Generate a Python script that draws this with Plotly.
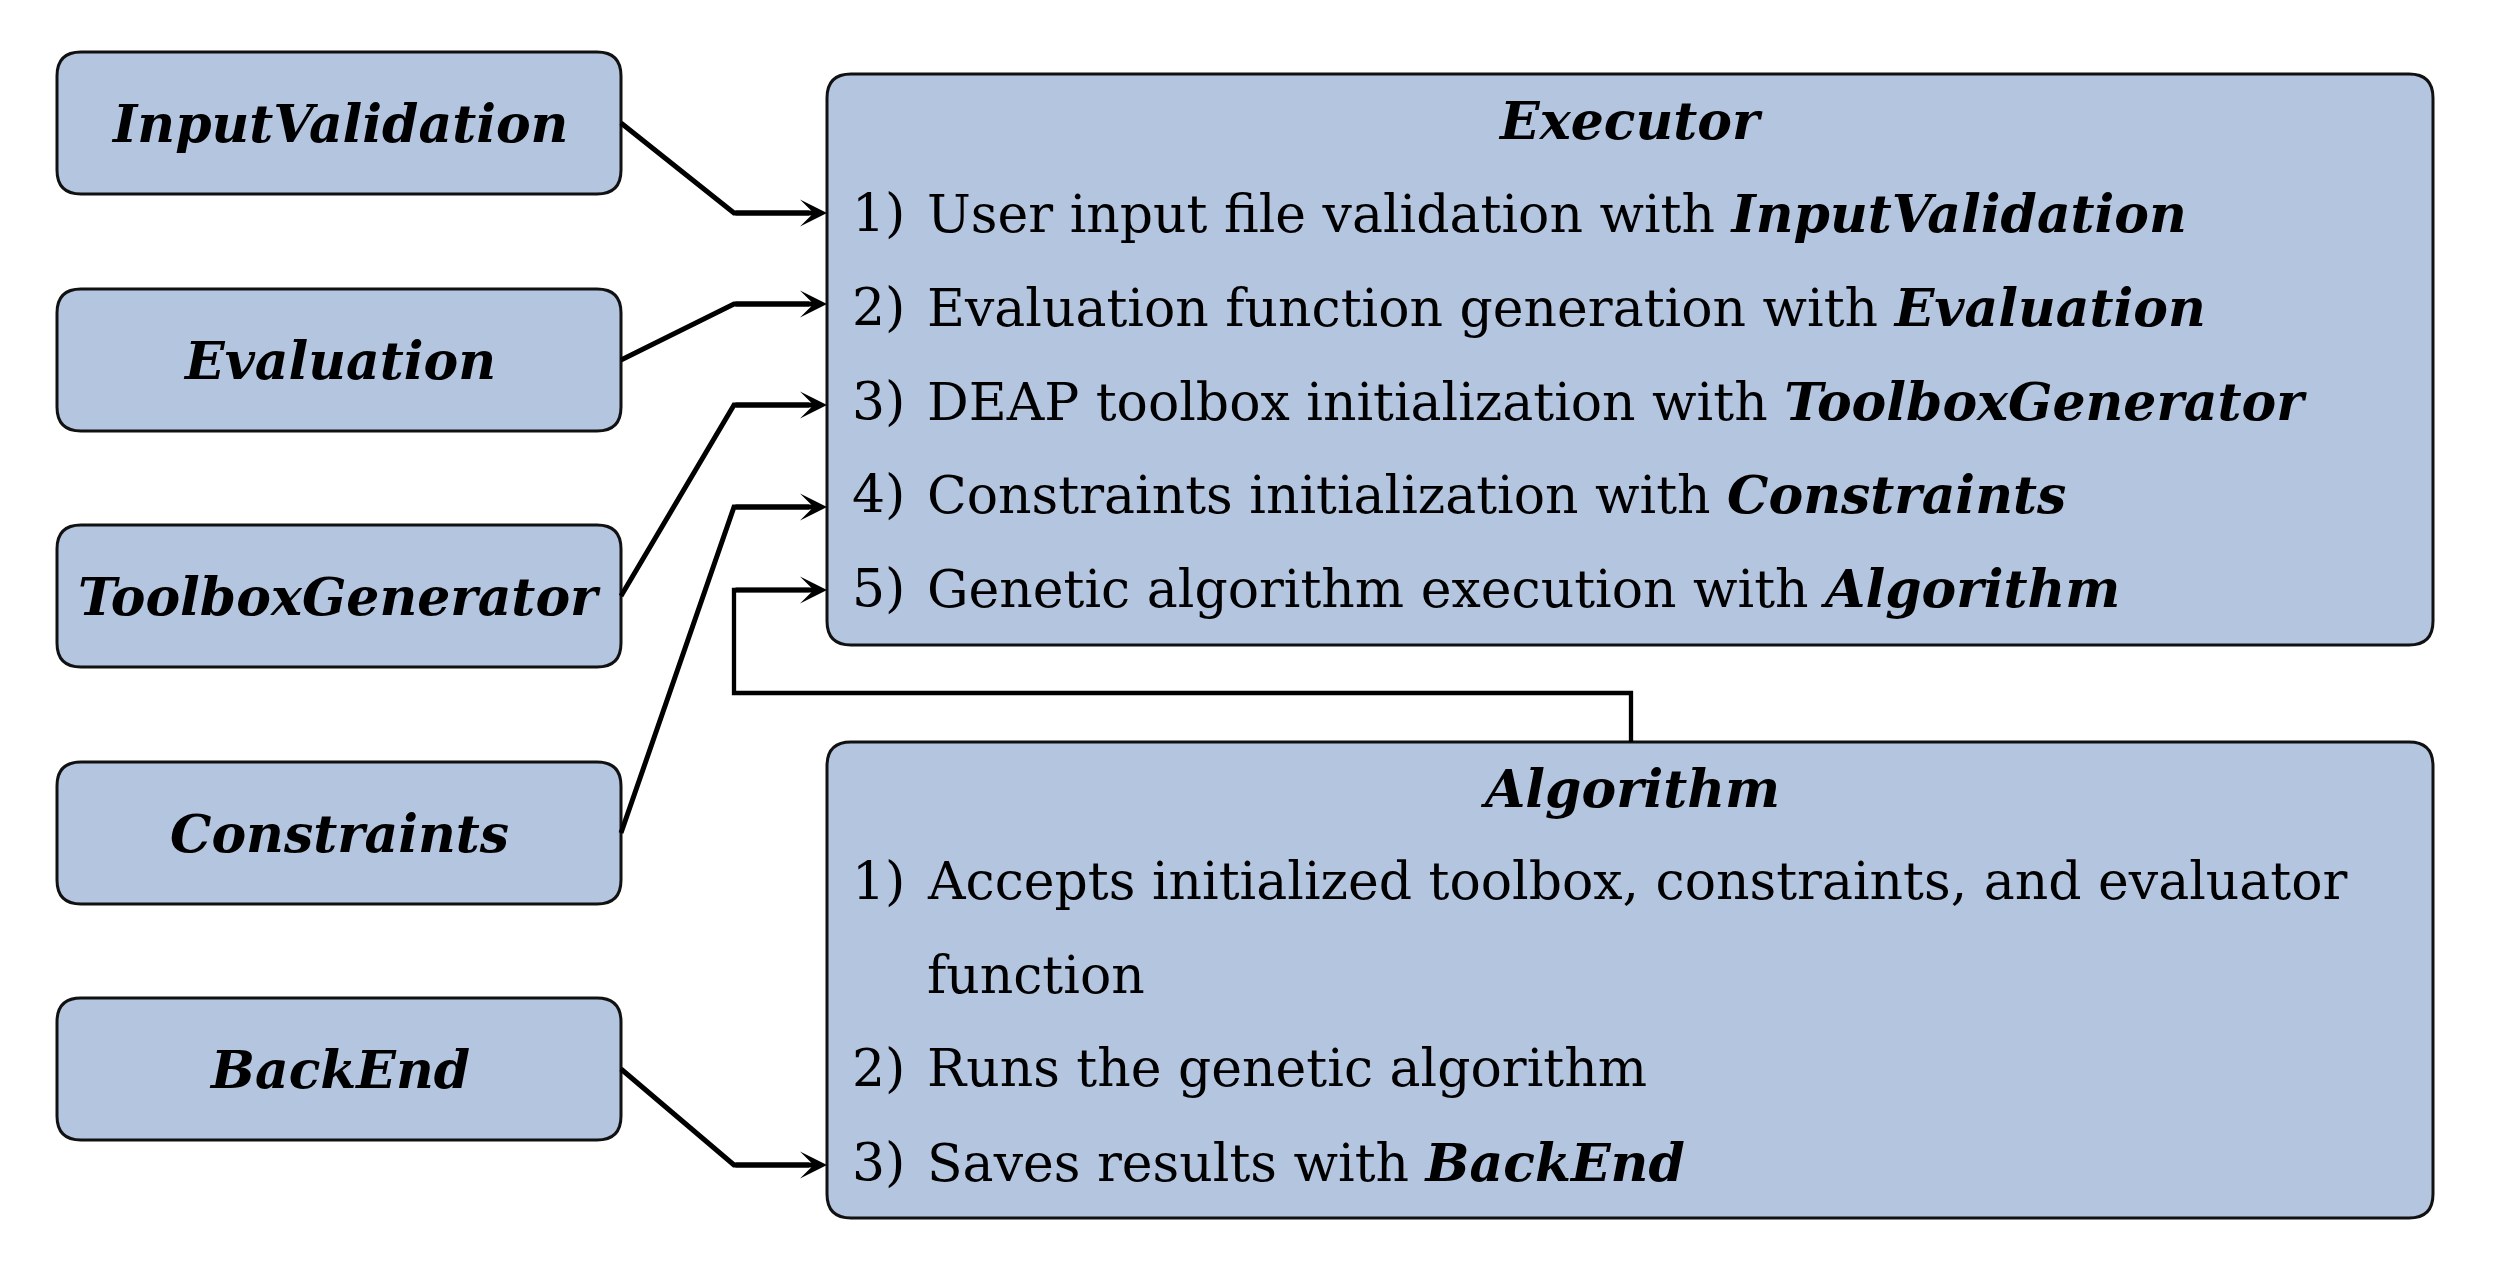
import plotly.graph_objects as go

# ---------------- data ----------------
modules = ["InputValidation", "Evaluation", "ToolboxGenerator", "Constraints", "BackEnd"]

executor_title = "Executor"
executor_labels = ["1)", "2)", "3)", "4)", "5)"]
executor_texts = [
    "User input file validation with ",
    "Evaluation function generation with ",
    "DEAP toolbox initialization with ",
    "Constraints initialization with ",
    "Genetic algorithm execution with ",
]
executor_refs = ["InputValidation", "Evaluation", "ToolboxGenerator", "Constraints", "Algorithm"]

algorithm_title = "Algorithm"
algorithm_labels = ["1)", "", "2)", "3)"]
algorithm_texts = [
    "Accepts initialized toolbox, constraints, and evaluator",
    "function",
    "Runs the genetic algorithm",
    "Saves results with ",
]
algorithm_refs = ["", "", "", "BackEnd"]

# ---------------- layout constants ----------------
W, H = 2502, 1276
PAD = 8  # page body margin
FILL = "#b4c5e0"
EDGE = "#111111"
FONT = "DejaVu Serif"
FS = 52

LB_X0, LB_X1 = 57, 621
LB_TOPS = [52, 289, 525, 762, 998]
LB_H = 142
EX = (827, 74, 2433, 645)
AL = (827, 742, 2433, 1218)
BEND_X = 734
EX_ARROW_Y = [213, 304, 405, 507, 590]
EX_LINE_Y = [213, 307, 401, 494, 588]
AL_LINE_Y = [881, 975, 1068, 1162]
BACKEND_ARROW_Y = 1165
FEED_X, FEED_Y = 1631, 693
LABEL_X, TEXT_X = 850, 925
HEAD_BACK = 18


def rrect(x0, y0, x1, y1, r):
    return (f"M{x0+r},{y0} L{x1-r},{y0} Q{x1},{y0} {x1},{y0+r} "
            f"L{x1},{y1-r} Q{x1},{y1} {x1-r},{y1} L{x0+r},{y1} "
            f"Q{x0},{y1} {x0},{y1-r} L{x0},{y0+r} Q{x0},{y0} {x0+r},{y0} Z")


fig = go.Figure()
shapes = []
annotations = []


def box(x0, y0, x1, y1, r=24):
    shapes.append(dict(type="path", path=rrect(x0, y0, x1, y1, r), xref="x", yref="y",
                       fillcolor=FILL, line=dict(color=EDGE, width=3), layer="below"))


def text(x, y, s, anchor="left", size=FS):
    annotations.append(dict(x=x, y=y, xref="x", yref="y", text=s, showarrow=False,
                            xanchor=anchor, yanchor="middle",
                            font=dict(family=FONT, size=size, color="#000000")))


def polyline(pts, width=5):
    p = "M" + " L".join(f"{x},{y}" for x, y in pts)
    shapes.append(dict(type="path", path=p, xref="x", yref="y",
                       line=dict(color="#000000", width=width)))


def arrow(x_from, x_to, y):
    annotations.append(dict(x=x_to, y=y, ax=x_from, ay=y, xref="x", yref="y",
                            axref="x", ayref="y", text="", showarrow=True,
                            arrowhead=3, arrowsize=0.9, arrowwidth=5,
                            arrowcolor="#000000", standoff=0))


# left module boxes
centers = []
for name, top in zip(modules, LB_TOPS):
    box(LB_X0, top, LB_X1, top + LB_H)
    cy = top + LB_H / 2
    centers.append(cy)
    text((LB_X0 + LB_X1) / 2, cy, f"<b><i>{name}</i></b>", anchor="center")

# executor & algorithm boxes
box(*EX)
box(*AL)
text((EX[0] + EX[2]) / 2, 120, f"<b><i>{executor_title}</i></b>", anchor="center")
for lab, t, ref, y in zip(executor_labels, executor_texts, executor_refs, EX_LINE_Y):
    text(LABEL_X, y, lab)
    text(TEXT_X, y, t + (f"<b><i>{ref}</i></b>" if ref else ""))

text((AL[0] + AL[2]) / 2, 788, f"<b><i>{algorithm_title}</i></b>", anchor="center")
for lab, t, ref, y in zip(algorithm_labels, algorithm_texts, algorithm_refs, AL_LINE_Y):
    if lab:
        text(LABEL_X, y, lab)
    text(TEXT_X, y, t + (f"<b><i>{ref}</i></b>" if ref else ""))

# connections from modules 0..3 to executor steps 1..4
for i in range(4):
    y = EX_ARROW_Y[i]
    polyline([(LB_X1, centers[i]), (BEND_X, y), (EX[0] - HEAD_BACK, y)])
    arrow(BEND_X, EX[0], y)

# feedback from Algorithm to executor step 5
y5 = EX_ARROW_Y[4]
polyline([(FEED_X, AL[1]), (FEED_X, FEED_Y), (BEND_X, FEED_Y), (BEND_X, y5),
          (EX[0] - HEAD_BACK, y5)], width=4.3)
arrow(BEND_X, EX[0], y5)

# BackEnd to algorithm step 3
polyline([(LB_X1, centers[4]), (BEND_X, BACKEND_ARROW_Y), (AL[0] - HEAD_BACK, BACKEND_ARROW_Y)])
arrow(BEND_X, AL[0], BACKEND_ARROW_Y)

fig.update_layout(
    width=W - 2 * PAD, height=H - 2 * PAD,
    margin=dict(l=0, r=0, t=0, b=0),
    paper_bgcolor="white", plot_bgcolor="white",
    xaxis=dict(range=[PAD, W - PAD], visible=False, fixedrange=True),
    yaxis=dict(range=[H - PAD, PAD], visible=False, fixedrange=True),
    shapes=shapes, annotations=annotations, showlegend=False,
)
fig.write_html("out.html")
